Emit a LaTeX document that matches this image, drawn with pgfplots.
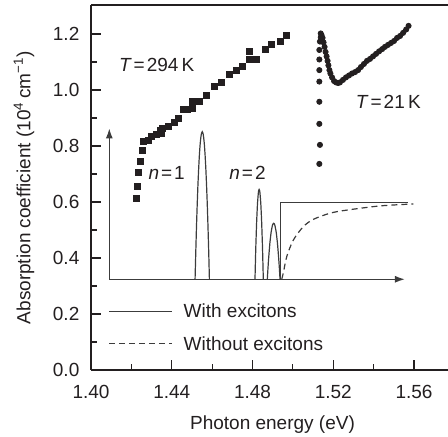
\documentclass[border=0pt]{standalone}
\usepackage{fontspec}
\setmainfont{Liberation Sans}
\usepackage{pgfplots}
\pgfplotsset{compat=1.18}
\usetikzlibrary{arrows.meta}
\definecolor{ink}{HTML}{231F20}
\definecolor{insetc}{HTML}{3C3C3C}

\pgfplotstableread{
x y
1.4226 0.612
1.4231 0.655
1.4236 0.705
1.4243 0.746
1.4253 0.786
1.4259 0.818
1.4286 0.821
1.4301 0.836
1.4325 0.843
1.4342 0.855
1.4350 0.846
1.4353 0.863
1.4383 0.869
1.4411 0.883
1.4432 0.899
1.4457 0.929
1.4477 0.929
1.4500 0.935
1.4500 0.958
1.4536 0.958
1.4573 0.979
1.4609 1.014
1.4647 1.026
1.4684 1.057
1.4722 1.069
1.4748 1.086
1.4784 1.110
1.4784 1.139
1.4821 1.110
1.4865 1.146
1.4892 1.164
1.4936 1.173
1.4969 1.194
}\roomT

\pgfplotstableread{
x y
1.5131 0.736
1.5134 0.804
1.5131 0.879
1.5131 0.958
1.5131 1.030
1.5131 1.071
1.5131 1.109
1.5131 1.143
1.5134 1.173
1.5138 1.188
1.5138 1.202
1.5142 1.196
1.5147 1.186
1.5152 1.170
1.5157 1.154
1.5162 1.136
1.5167 1.120
1.5172 1.104
1.5176 1.088
1.5181 1.071
1.5186 1.059
1.5194 1.045
1.5204 1.032
1.5214 1.027
1.5224 1.025
1.5233 1.027
1.5248 1.036
1.5263 1.045
1.5278 1.052
1.5293 1.059
1.5308 1.064
1.5323 1.071
1.5337 1.082
1.5352 1.093
1.5367 1.104
1.5382 1.111
1.5397 1.120
1.5412 1.129
1.5427 1.138
1.5442 1.146
1.5456 1.154
1.5471 1.161
1.5486 1.168
1.5501 1.175
1.5516 1.186
1.5531 1.193
1.5546 1.204
1.5561 1.216
1.5573 1.229
}\lowT

\begin{document}
\begin{tikzpicture}[font=\fontsize{9.5}{11.4}\selectfont]
\begin{axis}[
  scale only axis, width=178.5pt, height=182.5pt,
  xmin=1.40, xmax=1.57684, ymin=0, ymax=1.3036,
  axis x line=bottom, axis y line=left, axis line style={-, ink, line width=0.7pt},
  clip=false,
  tick align=inside, major tick length=4.75pt, minor tick length=3pt,
  tick style={ink, line width=0.6pt},
  xtick={1.40,1.44,1.48,1.52,1.56},
  xticklabels={1.40,1.44,1.48,1.52,1.56},
  minor xtick={1.42,1.46,1.50,1.54},
  ytick={0,0.2,0.4,0.6,0.8,1.0,1.2},
  yticklabels={0.0,0.2,0.4,0.6,0.8,1.0,1.2},
  minor ytick={0.1,0.3,0.5,0.7,0.9,1.1},
  xticklabel style={anchor=base, yshift=-14.5pt, text=ink},
  yticklabel style={anchor=east, xshift=-2.3pt, text=ink},
  xlabel={Photon energy (eV)},
  xlabel style={at={(axis description cs:0.5,0)}, anchor=base, yshift=-30pt, xshift=1.5pt, text=ink},
]
\coordinate (bl) at (rel axis cs:0,0);
\coordinate (ylab) at (axis description cs:0,0.5);
\draw[ink, line width=0.7pt] (rel axis cs:0,1) -- (rel axis cs:1,1);

% data
\addplot[only marks, mark=square*, mark size=1.5pt, ink] table[x=x,y=y] {\roomT};
\addplot[only marks, mark=*, mark size=1.3pt, ink] table[x=x,y=y] {\lowT};

% inset axes
\addplot[insetc, line width=0.7pt, -{Latex[length=5pt,width=3.5pt]}] coordinates {(1.40907,0.324) (1.40907,0.863)};
\addplot[insetc, line width=0.7pt, -{Latex[length=5pt,width=3.5pt]}] coordinates {(1.40907,0.324) (1.5555,0.324)};

% with excitons
\addplot[insetc, line width=0.6pt, smooth, tension=0.3] coordinates {
(1.45155,0.324) (1.45191,0.424) (1.45226,0.514) (1.45262,0.593) (1.45297,0.661)
(1.45333,0.719) (1.45368,0.767) (1.45404,0.804) (1.45439,0.830) (1.45475,0.846)
(1.45510,0.851) (1.45546,0.846) (1.45581,0.830) (1.45617,0.804) (1.45652,0.767)
(1.45688,0.719) (1.45723,0.661) (1.45759,0.593) (1.45794,0.514) (1.45830,0.424)
(1.45865,0.324)};
\addplot[insetc, line width=0.6pt, smooth, tension=0.3] coordinates {
(1.48123,0.324) (1.48144,0.385) (1.48164,0.440) (1.48205,0.529) (1.48247,0.594)
(1.48288,0.632) (1.48308,0.642) (1.48329,0.645) (1.48350,0.642) (1.48370,0.632)
(1.48411,0.594) (1.48453,0.529) (1.48494,0.440) (1.48514,0.385) (1.48535,0.324)};
\addplot[insetc, line width=0.6pt, smooth, tension=0.3] coordinates {
(1.48733,0.324) (1.48765,0.362) (1.48796,0.396) (1.48859,0.452) (1.48922,0.492)
(1.48985,0.516) (1.49017,0.522) (1.49048,0.524) (1.49080,0.522) (1.49111,0.516)
(1.49174,0.492) (1.49237,0.452) (1.49300,0.396) (1.49332,0.362) (1.49363,0.324)};
\addplot[insetc, line width=0.6pt] coordinates {(1.49397,0.324) (1.49397,0.598) (1.5572,0.598)};

% without excitons
\addplot[insetc, line width=0.6pt, dash pattern=on 3pt off 2pt, smooth] coordinates {
(1.49448,0.324) (1.49536,0.350) (1.49696,0.405) (1.50023,0.464) (1.50518,0.512)
(1.51014,0.538) (1.51841,0.560) (1.52668,0.571) (1.54318,0.586) (1.55968,0.593)};

% legend
\addplot[insetc, line width=0.6pt] coordinates {(1.40907,0.208) (1.44,0.208)};
\addplot[insetc, line width=0.6pt, dash pattern=on 3pt off 2pt] coordinates {(1.40907,0.095) (1.44,0.095)};
\node[anchor=base west, inner sep=0pt, text=ink] at (axis cs:1.44572,0.186) {With excitons};
\node[anchor=base west, inner sep=0pt, text=ink] at (axis cs:1.44572,0.071) {Without excitons};

% labels
\node[anchor=base, inner sep=0pt, text=ink] at (axis cs:1.43254,1.065) {\textit{T}\kern1pt=\kern1pt294\,K};
\node[anchor=base, inner sep=0pt, text=ink] at (axis cs:1.54727,0.9346) {\textit{T}\kern1pt=\kern1pt21\,K};
\node[anchor=base, inner sep=0pt, text=ink] at (axis cs:1.43749,0.679) {\textit{n}\kern1pt=\kern1pt1};
\node[anchor=base, inner sep=0pt, text=ink] at (axis cs:1.47752,0.679) {\textit{n}\kern1pt=\kern1pt2};
\end{axis}
\node[rotate=90, anchor=center, inner sep=0pt, text=ink] at ([xshift=-33.5pt]ylab) {Absorption coefficient (10\textsuperscript{4}\,cm\textsuperscript{−1})};
\pgfresetboundingbox
\path (bl) ++(-45.5pt,-33.5pt) rectangle ++(224pt,218.5pt);
\end{tikzpicture}
\end{document}
